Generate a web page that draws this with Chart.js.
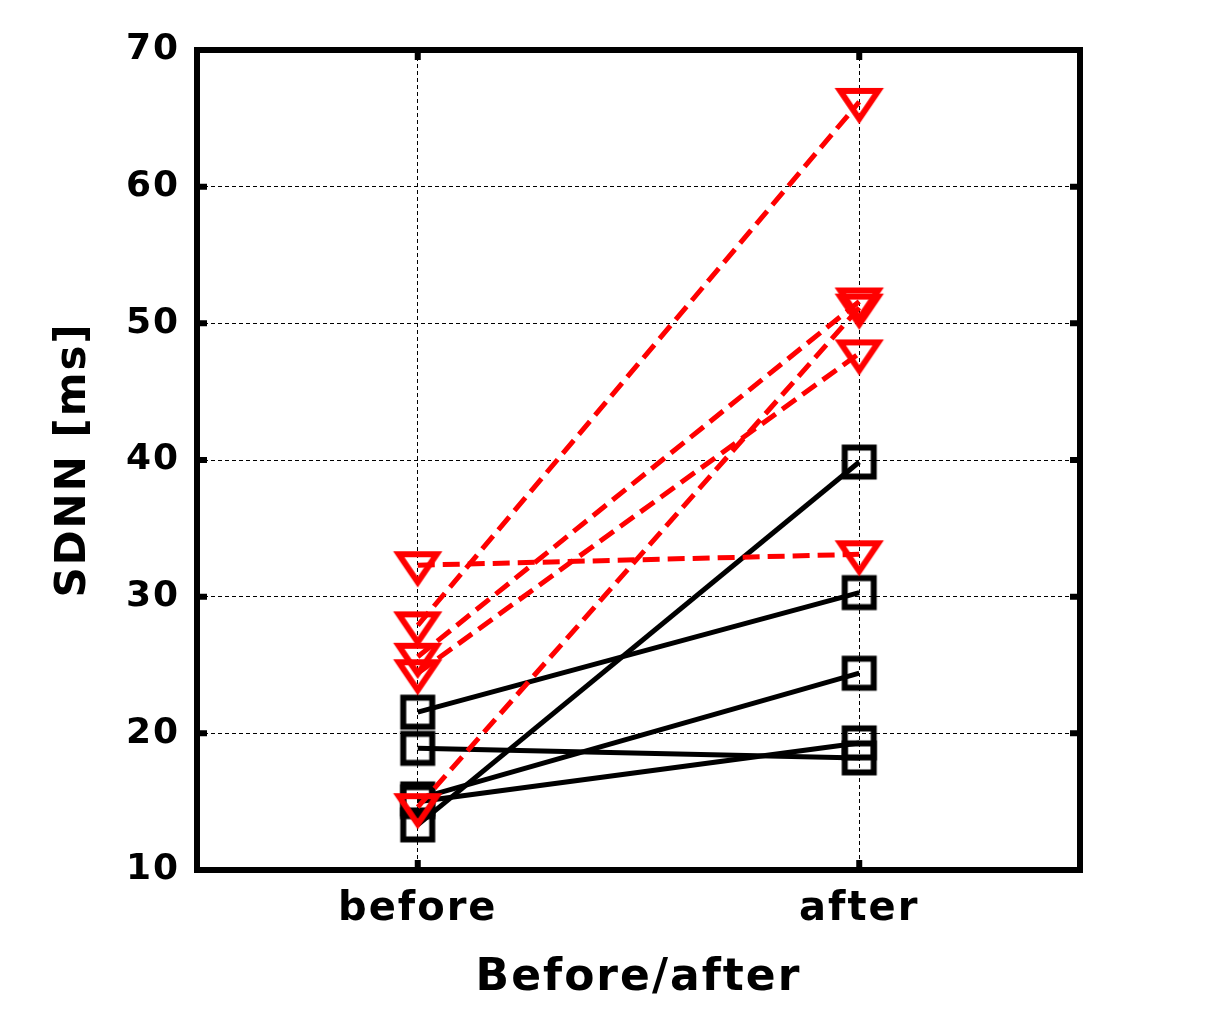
<!DOCTYPE html>
<html>
<head>
<meta charset="utf-8">
<script src="https://cdn.jsdelivr.net/npm/chart.js@4.4.1/dist/chart.umd.min.js"></script>
<style>
  html, body { margin: 0; padding: 0; background: #fff; }
  #c { display: block; }
</style>
</head>
<body>
<canvas id="c" width="1209" height="1021"></canvas>
<script>
// ---- data ----
const categories = ['before', 'after'];
const yTicks = [10, 20, 30, 40, 50, 60, 70];
// black solid series (square markers)
const blackBefore = [21.55, 18.9, 13.3, 15.2, 15.0];
const blackAfter  = [30.3, 18.2, 39.85, 24.4, 19.3];
// red dashed series (down-triangle markers)
const redBefore = [32.3, 27.9, 25.6, 24.4, 14.6];
const redAfter  = [33.1, 66.2, 51.6, 47.8, 51.15];

const FONT = '"DejaVu Sans", sans-serif';

// marker images
function squareMarker() {
  const c = document.createElement('canvas');
  c.width = 44; c.height = 44;
  const g = c.getContext('2d');
  g.strokeStyle = '#000'; g.lineWidth = 6; g.lineJoin = 'miter';
  g.strokeRect(22 - 14.5, 22 - 14.5, 29, 29);
  return c;
}
function triangleMarker() {
  const c = document.createElement('canvas');
  c.width = 60; c.height = 60;
  const g = c.getContext('2d');
  g.strokeStyle = '#ff0000'; g.lineWidth = 6; g.lineJoin = 'miter';
  g.beginPath();
  g.moveTo(30 - 19, 30 - 11);
  g.lineTo(30 + 19, 30 - 11);
  g.lineTo(30, 30 + 17);
  g.closePath();
  g.stroke();
  return c;
}
const sq = squareMarker();
const tri = triangleMarker();

const datasets = [];
redBefore.forEach((v, i) => {
  datasets.push({
    data: [{x: 0, y: v}, {x: 1, y: redAfter[i]}],
    borderColor: '#ff0000', borderWidth: 5, borderDash: [17, 8],
    pointStyle: tri, pointRadius: 10, fill: false, tension: 0
  });
});
blackBefore.forEach((v, i) => {
  datasets.push({
    data: [{x: 0, y: v}, {x: 1, y: blackAfter[i]}],
    borderColor: '#000000', borderWidth: 5,
    pointStyle: sq, pointRadius: 10, fill: false, tension: 0
  });
});

const spacingPlugin = {
  id: 'spacing',
  beforeUpdate(chart) { chart.ctx.letterSpacing = '2px'; },
  beforeDraw(chart) { chart.ctx.letterSpacing = '2px'; }
};

const framePlugin = {
  id: 'frame',
  afterDraw(chart) {
    const {ctx, chartArea: a, scales} = chart;
    ctx.save();
    ctx.strokeStyle = '#000';
    ctx.lineWidth = 6;
    ctx.lineJoin = 'miter';
    ctx.setLineDash([]);
    const tl = 10;
    ctx.beginPath();
    yTicks.forEach(v => {
      const py = scales.y.getPixelForValue(v);
      ctx.moveTo(a.left, py); ctx.lineTo(a.left + tl, py);
      ctx.moveTo(a.right, py); ctx.lineTo(a.right - tl, py);
    });
    categories.forEach((c, i) => {
      const px = scales.x.getPixelForValue(i);
      ctx.moveTo(px, a.bottom); ctx.lineTo(px, a.bottom - tl);
      ctx.moveTo(px, a.top); ctx.lineTo(px, a.top + tl);
    });
    ctx.stroke();
    ctx.strokeRect(a.left, a.top, a.right - a.left, a.bottom - a.top);
    ctx.restore();
  }
};

new Chart(document.getElementById('c'), {
  type: 'line',
  data: { datasets },
  plugins: [spacingPlugin, framePlugin],
  options: {
    responsive: false,
    animation: false,
    layout: { padding: { top: 50, right: 129, left: 0, bottom: 0 } },
    plugins: { legend: { display: false }, tooltip: { enabled: false } },
    scales: {
      x: {
        type: 'linear', min: -0.5, max: 1.5,
        afterBuildTicks(s) { s.ticks = categories.map((c, i) => ({ value: i })); },
        afterFit(s) { s.height = 151; },
        ticks: {
          callback: (v) => categories[v],
          color: '#000', maxRotation: 0, autoSkip: false, padding: 16,
          font: { family: FONT, size: 40, weight: 'bold' }
        },
        grid: { color: '#000', lineWidth: 1, drawTicks: false },
        border: { display: false, dash: [4, 3] },
        title: {
          display: true, text: 'Before/after', color: '#000',
          font: { family: FONT, size: 44, weight: 'bold' },
          padding: { top: 0, bottom: 16 }
        }
      },
      y: {
        type: 'linear', min: 10, max: 70,
        afterBuildTicks(s) { s.ticks = yTicks.map(v => ({ value: v })); },
        afterFit(s) { s.width = 197; },
        ticks: {
          color: '#000', padding: 17,
          font: { family: FONT, size: 36, weight: 'bold' }
        },
        grid: { color: '#000', lineWidth: 1, drawTicks: false },
        border: { display: false, dash: [4, 3] },
        title: {
          display: true, text: 'SDNN [ms]', color: '#000',
          font: { family: FONT, size: 42, weight: 'bold' },
          padding: { top: 49, bottom: 0 }
        }
      }
    }
  }
});
</script>
</body>
</html>
